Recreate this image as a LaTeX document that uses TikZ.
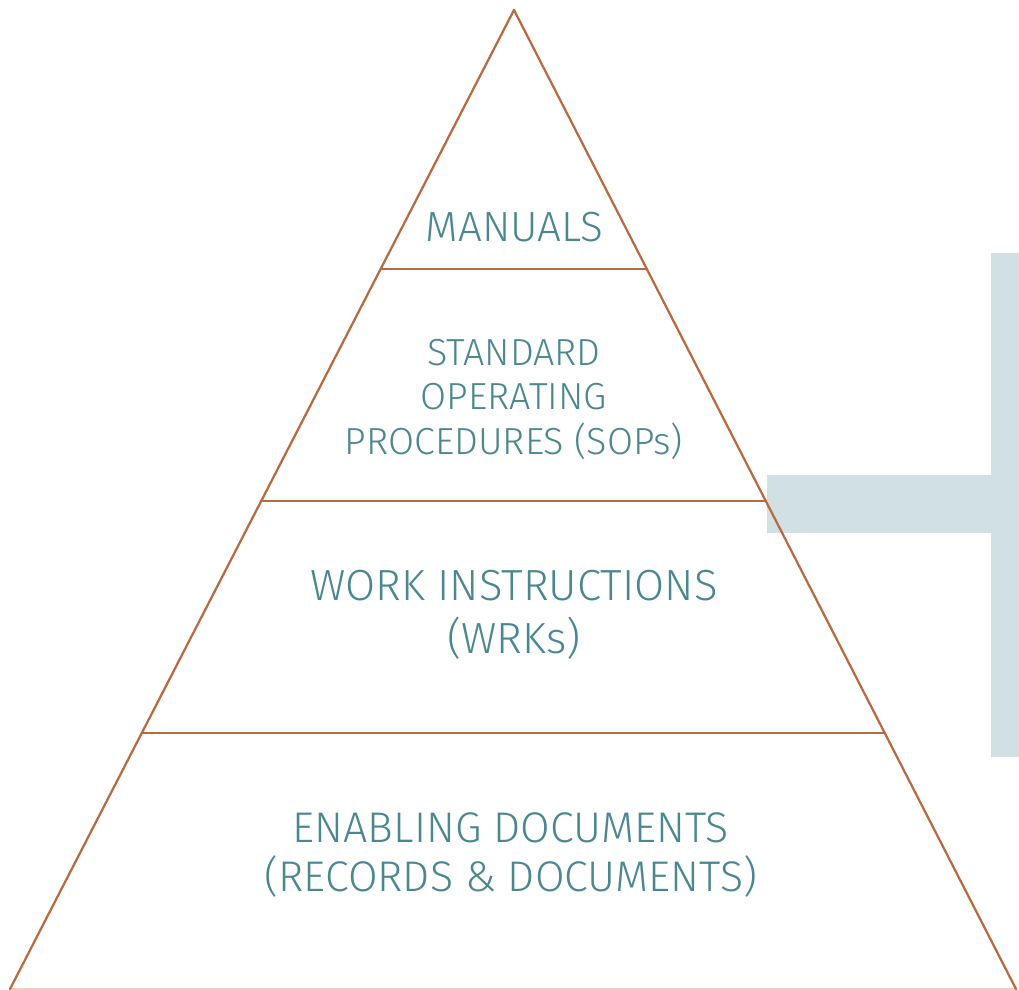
\documentclass[tikz,border=0pt]{standalone}
\usepackage{fontspec}
\setmainfont{Fira Sans Light}
\usepackage{tkz-euclide}

\definecolor{pyrline}{HTML}{B86A42}
\definecolor{pyrbase}{HTML}{EBCDBB}
\definecolor{pyrtext}{HTML}{4A8790}
\definecolor{bracket}{HTML}{D1E0E3}

\tikzset{level/.style={text=pyrtext, align=center, inner sep=0pt}}

\begin{document}
\begin{tikzpicture}[line width=1.6pt]
  \useasboundingbox (0,0) rectangle (25.475,24.75);

  % bracket behind the pyramid
  \fill[bracket] (24.775,5.825) rectangle (25.475,18.425);
  \fill[bracket] (19.175,11.425) rectangle (24.8,12.875);

  \tkzDefPoints{0.25/0.025/B, 25.4/0.025/C, 12.85/24.5/A}
  \tkzDefPointBy[homothety=center A ratio .2646](B) \tkzGetPoint{D}
  \tkzDefPointBy[homothety=center A ratio .2646](C) \tkzGetPoint{E}
  \tkzDefPointBy[homothety=center A ratio .5015](B) \tkzGetPoint{F}
  \tkzDefPointBy[homothety=center A ratio .5015](C) \tkzGetPoint{G}
  \tkzDefPointBy[homothety=center A ratio .7385](B) \tkzGetPoint{H}
  \tkzDefPointBy[homothety=center A ratio .7385](C) \tkzGetPoint{I}

  \tkzDrawSegment[pyrbase, line width=1.6pt](B,C)
  \tkzDrawSegments[pyrline, line width=1.6pt](A,B A,C D,E F,G H,I)

  \node[level, font=\fontsize{30}{36}\selectfont] (manuals) at (12.87,19.075) {MANUALS};
  \node[level, font=\fontsize{26.8}{31.7}\selectfont] (sops) at (12.85,14.77)
    {STANDARD\\OPERATING\\PROCEDURES (SOPs)};
  \node[level, font=\fontsize{31}{37.7}\selectfont] (wrks) at (12.85,9.38)
    {WORK INSTRUCTIONS\\(WRKs)};
  \node[level, font=\fontsize{30.5}{35.5}\selectfont] (enabling) at (12.77,3.375)
    {ENABLING DOCUMENTS\\(RECORDS \& DOCUMENTS)};
\end{tikzpicture}
\end{document}
